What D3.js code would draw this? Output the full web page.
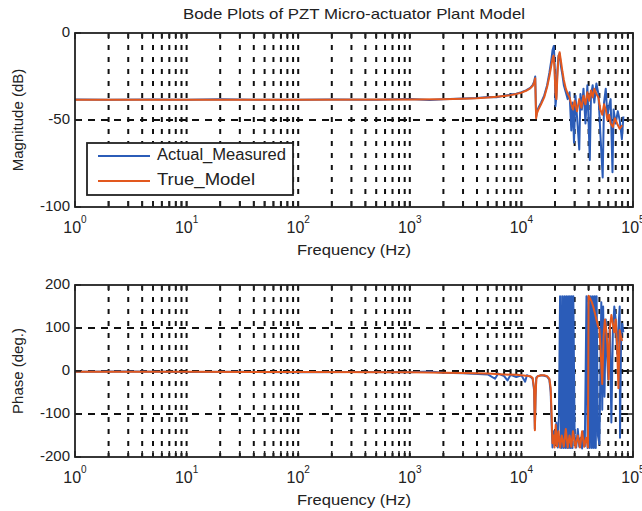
<!DOCTYPE html>
<html>
<head>
<meta charset="utf-8">
<script src="https://cdn.jsdelivr.net/npm/d3@7"></script>
<style>
  body { margin: 0; background: #fff; }
  text { font-family: 'Liberation Sans', Arial, sans-serif; fill: #222; }
</style>
</head>
<body>
<svg id="chart" width="642" height="511"></svg>
<script>
// ---- data (Hz, dB, deg) ----
const decadeLabels = [0, 1, 2, 3, 4, 5]
const magTicks = [0, -50, -100]
const phaseTicks = [200, 100, 0, -100, -200]

const modelMagF = [1, 10, 100, 1000, 2000, 3000, 4000, 5000, 6000, 7000, 8000, 9000, 10000, 11000, 12000, 12600, 13000, 13300, 13550, 13800, 14200, 15000, 16000, 17000, 17800, 18500, 19000, 19400, 19800, 20200, 20600, 21000, 21500, 22000, 22600, 23300, 24000, 25000, 26000, 27000, 28000, 29000, 30000, 31500, 33000, 34500, 36000, 37500, 39000, 40500, 42000, 43500, 45000, 47000, 49000, 51000, 53000, 55000, 57000, 59000, 61000, 63000, 66000, 69000, 72000, 76000, 80000]
const modelMag = [-38.3, -38.3, -38.3, -38.2, -38.1, -37.8, -37.5, -37.1, -36.7, -36.2, -35.7, -35.0, -34.3, -33.2, -31.8, -30.5, -28.5, -26, -49, -46, -44, -41, -37, -31, -25, -19, -15, -13, -20, -35, -38, -25, -14, -11, -16, -22, -27, -32, -35, -37, -41, -44, -39, -45, -38, -43, -36, -41, -34, -39, -33, -37, -32, -35, -37, -44, -47, -41, -44, -50, -47, -52, -54, -49, -52, -55, -53]

const measMagF = [1, 2, 5, 10, 20, 50, 100, 200, 500, 1000, 1500, 2000, 3000, 4000, 5000, 6000, 7000, 8000, 9000, 10000, 11000, 12000, 12600, 13000, 13300, 13550, 13800, 14200, 15000, 16000, 17000, 17800, 18500, 19000, 19500, 19800, 20200, 20600, 21000, 21500, 22000, 22600, 23300, 24000, 25000, 26000, 27000, 28000, 28800, 29600, 30500, 31500, 33000, 33800, 34800, 36000, 37500, 39000, 41000, 42000, 43500, 45000, 47000, 49000, 51000, 53500, 55000, 57000, 59000, 61000, 63000, 65500, 67000, 70000, 73000, 76000, 79500, 82000]
const measMag = [-38.2, -38.4, -38.2, -38.3, -38.1, -38.4, -38.3, -38.2, -38.3, -38.0, -38.5, -38.1, -37.6, -37.4, -36.8, -36.9, -36.0, -35.4, -34.9, -34.0, -33.0, -31.5, -30, -28, -25, -48, -45, -43, -40, -36, -30, -23, -16, -10, -7.5, -15, -42, -36, -22, -13, -12, -19, -24, -30, -34, -38, -34, -56, -40, -63, -36, -48, -67, -35, -44, -32, -52, -30, -73, -36, -30, -40, -29, -35, -58, -83, -40, -32, -48, -42, -38, -80, -44, -52, -45, -50, -61, -48]

const modelPhF = [1, 10, 100, 1000, 3000, 5000, 7000, 9000, 10000, 11000, 12000, 12600, 13000, 13200, 13400, 13600, 14000, 15000, 16000, 17000, 17800, 18300, 18700, 19000, 19400, 19800, 20300, 20800, 21500, 22200, 23000, 24000, 25000, 26000, 27000, 28000, 29000, 30500, 32000, 33500, 35000, 36500, 38000, 39500, 40000, 41000, 42500, 44000, 45500, 47000, 48500, 50000, 51500, 53000, 54500, 56000, 57500, 59000, 60500, 62000, 64000, 66000, 68000, 70000, 72000, 74000, 76000, 78000, 80000]
const modelPh = [-2, -2, -2.5, -3, -4.5, -6, -8, -9, -10, -11, -12, -16, -40, -138, -60, -18, -12, -10, -10, -12, -18, -40, -110, -168, -150, -178, -125, -175, -140, -178, -150, -176, -135, -178, -150, -176, -140, -178, -150, -178, -140, -176, -155, -178, 175, 170, 162, 150, 135, 120, 105, 98, 40, -30, 80, 120, 95, 60, -20, 100, 130, 110, 90, 120, 60, -40, 95, 80, 70]

const measPhF = [1, 3, 10, 30, 100, 300, 1000, 1500, 2000, 3000, 5000, 5800, 6200, 7000, 7500, 8000, 9000, 10000, 10800, 11200, 12000, 12600, 13000, 13200, 13400, 13600, 14000, 15000, 16000, 17000, 17800, 18300, 18700, 19000, 19500, 20000, 20600, 21200, 21700, 22200, 22700, 23200, 23700, 24200, 24700, 25200, 25700, 26200, 26700, 27200, 27700, 28200, 28700, 29200, 30000, 31000, 32000, 33000, 34000, 35000, 36000, 37000, 38300, 39200, 40100, 41000, 41900, 42800, 43700, 44600, 45500, 46400, 47200, 48500, 50000, 52000, 53000, 54000, 55500, 57000, 58500, 60000, 62000, 64000, 66000, 68000, 70000, 72000, 74000, 76000, 76500, 78000, 80000, 82000]
const measPh = [-2, -1, -2.5, -2, -3, -2.5, -3, -1, -4, -5, -8, -18, -6, -12, -22, -9, -14, -10, -25, -10, -13, -18, -45, -135, -55, -15, -12, -10, -11, -13, -20, -50, -130, -178, -140, -170, -120, -178, -100, 174, -179, 174, -179, 174, -179, 174, -179, 174, -179, 174, -179, 174, -179, 174, -150, -178, -135, -176, -155, -180, -140, -175, 174, -179, 174, -179, 174, -179, 174, -179, 174, -179, 174, -150, -170, 160, -90, 150, -60, 120, 40, -20, 110, -120, 90, 150, 120, 40, 100, 150, -155, 60, 110, 90]

const seriesNames = ['Actual_Measured', 'True_Model']
const seriesColors = ['#2b5cb8', '#e2581e']

// ---- layout ----
const svg = d3.select('#chart')
const x = d3.scaleLog().domain([1, 1e5]).range([75, 633])
const zip = (f, v) => f.map((d, i) => [d, v[i]])

function panel ({ id, y, yTicks, yLabel, data }) {
  const [yb, yt] = y.range()
  const [xl, xr] = x.range()
  const g = svg.append('g')

  g.append('clipPath').attr('id', id)
    .append('rect').attr('x', xl).attr('y', yt).attr('width', xr - xl).attr('height', yb - yt)

  // vertical grid (major + minor)
  g.append('g').selectAll('line')
    .data(x.ticks().filter(t => t > 1 && t < 1e5))
    .enter().append('line')
    .attr('x1', d => x(d)).attr('x2', d => x(d))
    .attr('y1', yt).attr('y2', yb)
    .attr('stroke', '#111').attr('stroke-width', 2)
    .attr('stroke-dasharray', '5,7')

  // horizontal grid
  g.append('g').selectAll('line')
    .data(yTicks.filter(t => y(t) > yt + 1 && y(t) < yb - 1))
    .enter().append('line')
    .attr('x1', xl).attr('x2', xr)
    .attr('y1', d => y(d)).attr('y2', d => y(d))
    .attr('stroke', '#111').attr('stroke-width', 1.8)
    .attr('stroke-dasharray', '7,6')

  // data lines
  const line = d3.line().x(d => x(d[0])).y(d => y(d[1]))
  data.forEach((s, i) => {
    g.append('path')
      .attr('clip-path', `url(#${id})`)
      .attr('d', line(s))
      .attr('fill', 'none')
      .attr('stroke', seriesColors[i])
      .attr('stroke-width', 2)
      .attr('stroke-linejoin', 'round')
  })

  // tick marks inside, all four sides
  const ticks = g.append('g').attr('stroke', '#222').attr('stroke-width', 1.5)
  x.ticks().forEach(t => {
    ticks.append('line').attr('x1', x(t)).attr('x2', x(t)).attr('y1', yb).attr('y2', yb - 6)
    ticks.append('line').attr('x1', x(t)).attr('x2', x(t)).attr('y1', yt).attr('y2', yt + 6)
  })
  yTicks.forEach(t => {
    ticks.append('line').attr('x1', xl).attr('x2', xl + 6).attr('y1', y(t)).attr('y2', y(t))
    ticks.append('line').attr('x1', xr).attr('x2', xr - 6).attr('y1', y(t)).attr('y2', y(t))
  })

  // box
  g.append('rect')
    .attr('x', xl).attr('y', yt).attr('width', xr - xl).attr('height', yb - yt)
    .attr('fill', 'none').attr('stroke', '#222').attr('stroke-width', 1.8)

  // y tick labels
  g.append('g').selectAll('text').data(yTicks).enter().append('text')
    .attr('x', xl - 5).attr('y', d => y(d))
    .attr('text-anchor', 'end').attr('dominant-baseline', 'middle')
    .style('font-size', '15px')
    .text(d => d)

  // x tick labels 10^n
  const xl2 = g.append('g').selectAll('text').data(decadeLabels).enter().append('text')
    .attr('x', d => x(Math.pow(10, d))).attr('y', yb + 26)
    .attr('text-anchor', 'middle')
    .style('font-size', '16px')
  xl2.append('tspan').text('10')
  xl2.append('tspan').attr('dy', -10).style('font-size', '10px').text(d => d)

  g.append('text')
    .attr('x', (xl + xr) / 2).attr('y', yb + 48)
    .attr('text-anchor', 'middle')
    .attr('textLength', 114).attr('lengthAdjust', 'spacingAndGlyphs')
    .style('font-size', '15px')
    .text('Frequency (Hz)')

  g.append('text')
    .attr('transform', `translate(19,${(yt + yb) / 2}) rotate(-90)`)
    .attr('text-anchor', 'middle').attr('dominant-baseline', 'middle')
    .style('font-size', '15px')
    .text(yLabel)

  return g
}

const yMag = d3.scaleLinear().domain([-100, 0]).range([207, 33])
const yPh = d3.scaleLinear().domain([-200, 200]).range([457, 285])

const magPanel = panel({
  id: 'clipMag', y: yMag, yTicks: magTicks, yLabel: 'Magnitude (dB)',
  data: [zip(measMagF, measMag), zip(modelMagF, modelMag)]
})
panel({
  id: 'clipPh', y: yPh, yTicks: phaseTicks, yLabel: 'Phase (deg.)',
  data: [zip(measPhF, measPh), zip(modelPhF, modelPh)]
})

svg.append('text')
  .attr('x', 354).attr('y', 19)
  .attr('text-anchor', 'middle')
  .attr('textLength', 342).attr('lengthAdjust', 'spacingAndGlyphs')
  .style('font-size', '15px')
  .text('Bode Plots of PZT Micro-actuator Plant Model')

// legend
const lg = magPanel.append('g')
lg.append('rect')
  .attr('x', 87).attr('y', 143).attr('width', 206).attr('height', 52)
  .attr('fill', '#fff').attr('stroke', '#222').attr('stroke-width', 1.8)
seriesNames.forEach((n, i) => {
  const ly = 156 + i * 25
  lg.append('line').attr('x1', 98).attr('x2', 150).attr('y1', ly).attr('y2', ly)
    .attr('stroke', seriesColors[i]).attr('stroke-width', 2)
  lg.append('text').attr('x', 157).attr('y', ly)
    .attr('dominant-baseline', 'middle')
    .attr('textLength', i === 0 ? 129 : 98).attr('lengthAdjust', 'spacingAndGlyphs')
    .style('font-size', '16px')
    .text(n)
})
</script>
</body>
</html>
